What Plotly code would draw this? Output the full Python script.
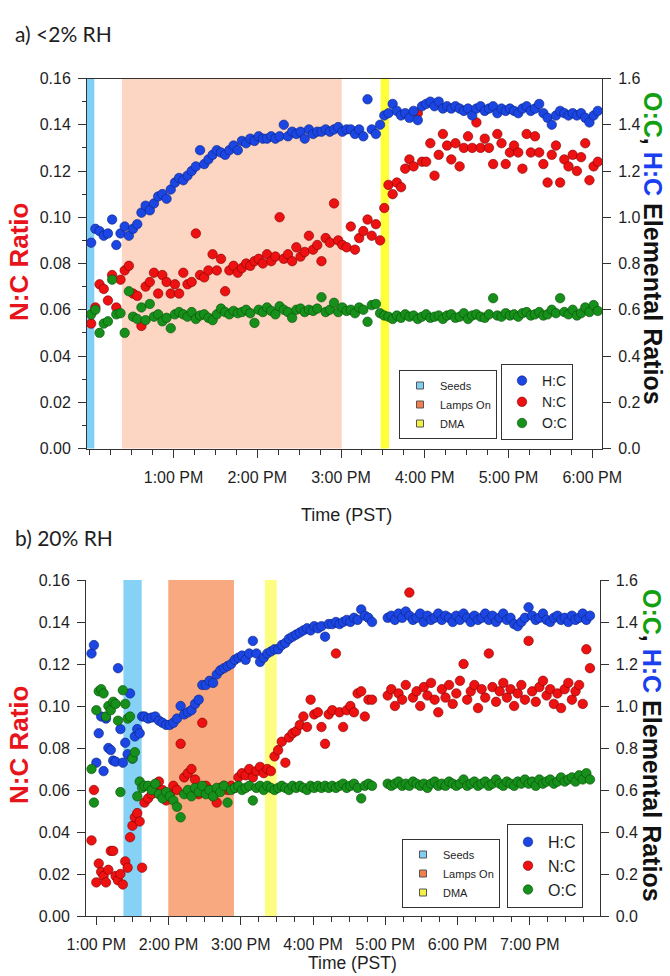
import plotly.graph_objects as go
from datetime import datetime, timedelta

# ---------------- DATA ----------------
# minutes after 12:00 PM (PST)
A_MIN = [1, 4, 7, 10, 13, 16, 19, 22, 25, 28, 31, 34, 37, 40, 43, 46, 49, 52, 55, 58,
         61, 64, 67, 70, 73, 76, 79, 82, 85, 88, 91, 94, 97, 100, 103, 106, 109, 112, 115, 118,
         121, 124, 127, 130, 133, 136, 139, 142, 145, 148, 151, 154, 157, 160, 163, 166, 169, 172, 175, 178,
         181, 184, 187, 190, 193, 196, 199, 202, 205, 208, 211, 214, 217, 220, 223, 226, 229, 232, 235, 238,
         241, 244, 247, 250, 253, 256, 259, 262, 265, 268, 271, 274, 277, 280, 283, 286, 289, 292, 295, 298,
         301, 304, 307, 310, 313, 316, 319, 322, 325, 328, 331, 334, 337, 340, 343, 346, 349, 352, 355, 358,
         361, 364]
A_HC = [0.89, 0.95, 0.94, 0.92, 0.93, 0.99, 0.88, 0.93, 0.96, 0.92,
        0.95, 0.97, 1.02, 1.05, 1.03, 1.06, 1.09, 1.10, 1.08, 1.12,
        1.15, 1.17, 1.16, 1.18, 1.20, 1.22, 1.29, 1.23, 1.25, 1.27,
        1.29, 1.28, 1.27, 1.29, 1.31, 1.29, 1.33, 1.32, 1.34, 1.33,
        1.35, 1.34, 1.34, 1.35, 1.34, 1.35, 1.40, 1.35, 1.37, 1.36,
        1.37, 1.34, 1.38, 1.36, 1.37, 1.37, 1.38, 1.37, 1.38, 1.39,
        1.37, 1.38, 1.38, 1.36, 1.38, 1.35, 1.51, 1.38, 1.36, 1.40,
        1.44, 1.45, 1.49, 1.46, 1.44, 1.45, 1.43, 1.46, 1.42, 1.48,
        1.49, 1.50, 1.48, 1.50, 1.47, 1.48, 1.47, 1.48, 1.47, 1.46,
        1.47, 1.44, 1.47, 1.48, 1.46, 1.47, 1.48, 1.45, 1.47, 1.46,
        1.47, 1.46, 1.45, 1.47, 1.48, 1.46, 1.47, 1.49, 1.45, 1.43,
        1.40, 1.44, 1.46, 1.45, 1.44, 1.45, 1.44, 1.45, 1.43, 1.41,
        1.44, 1.46]
A_NC = [0.054, 0.061, 0.071, 0.069, 0.064, 0.075, 0.061, 0.073, 0.077, 0.079,
        0.067, 0.066, 0.053, 0.070, 0.072, 0.076, 0.067, 0.075, 0.072, 0.067,
        0.071, 0.067, 0.076, 0.071, 0.072, 0.093, 0.075, 0.074, 0.077, 0.084,
        0.077, 0.082, 0.068, 0.077, 0.079, 0.076, 0.078, 0.080, 0.079, 0.081,
        0.082, 0.080, 0.084, 0.081, 0.083, 0.100, 0.082, 0.084, 0.081, 0.087,
        0.083, 0.085, 0.092, 0.086, 0.088, 0.081, 0.091, 0.089, 0.106, 0.090,
        0.088, 0.087, 0.096, 0.086, 0.091, 0.094, 0.099, 0.092, 0.097, 0.090,
        0.104, 0.114, 0.110, 0.115, 0.113, 0.121, 0.125, 0.122, 0.145, 0.124,
        0.124, 0.132, 0.118, 0.127, 0.136, 0.131, 0.125, 0.132, 0.122, 0.130,
        0.135, 0.130, 0.141, 0.130, 0.134, 0.130, 0.123, 0.136, 0.132, 0.123,
        0.128, 0.131, 0.128, 0.121, 0.136, 0.128, 0.135, 0.128, 0.123, 0.115,
        0.127, 0.131, 0.115, 0.125, 0.122, 0.127, 0.120, 0.126, 0.132, 0.116,
        0.122, 0.124]
A_OC = [0.58, 0.60, 0.50, 0.54, 0.55, 0.73, 0.58, 0.585, 0.50, 0.68,
        0.57, 0.56, 0.61, 0.555, 0.625, 0.57, 0.58, 0.55, 0.565, 0.52,
        0.58, 0.59, 0.58, 0.57, 0.59, 0.56, 0.575, 0.58, 0.565, 0.555,
        0.58, 0.605, 0.59, 0.58, 0.595, 0.585, 0.59, 0.60, 0.585, 0.543,
        0.60, 0.59, 0.61, 0.595, 0.58, 0.615, 0.60, 0.59, 0.565, 0.60,
        0.605, 0.59, 0.60, 0.595, 0.605, 0.654, 0.59, 0.60, 0.63, 0.59,
        0.61, 0.595, 0.60, 0.585, 0.61, 0.60, 0.548, 0.62, 0.625, 0.585,
        0.575, 0.57, 0.56, 0.575, 0.565, 0.58, 0.57, 0.575, 0.56, 0.57,
        0.58, 0.565, 0.57, 0.575, 0.56, 0.575, 0.58, 0.565, 0.57, 0.585,
        0.56, 0.575, 0.58, 0.57, 0.565, 0.58, 0.65, 0.575, 0.57, 0.585,
        0.575, 0.58, 0.57, 0.585, 0.59, 0.575, 0.58, 0.59, 0.575, 0.58,
        0.60, 0.585, 0.65, 0.59, 0.58, 0.60, 0.575, 0.585, 0.61, 0.59,
        0.62, 0.595]

B_MIN = [56, 58, 60, 62, 64, 66, 68, 70, 72, 74, 76, 78, 80, 82, 84, 86, 88, 90, 92, 94, 96, 98, 100,
         103, 106, 109, 112, 115, 118, 121, 124, 127, 130, 133, 136, 139, 142, 145, 148, 151, 154, 157, 160,
         163, 166, 169, 172, 175, 178, 181, 184, 187, 190, 193, 196, 199, 202, 205, 208, 211, 214, 217, 220,
         223, 226, 229, 232, 235, 238, 241, 244, 247, 250, 253, 256, 259, 262, 265, 268, 271, 274, 277, 280,
         283, 286, 289,
         302, 305, 308, 311, 314, 317, 320, 323, 326, 329, 332, 335, 338, 341, 344, 347, 350, 353, 356, 359,
         362, 365, 368, 371, 374, 377, 380, 383, 386, 389, 392, 395, 398, 401, 404, 407, 410, 413, 416, 419,
         422, 425, 428, 431, 434, 437, 440, 443, 446, 449, 452, 455, 458, 461, 464, 467, 470]
B_HC = [1.25, 1.29, 0.73, 0.87, 0.95, 0.69, 0.94, 0.80, 0.79, 0.74, 0.735, 1.18, 0.89, 0.73, 0.825,
        0.77, 1.06, 0.75, 0.855, 0.89, 0.87, 0.95, 0.95,
        0.94, 0.945, 0.95, 0.93, 0.92, 0.91, 0.91, 0.92, 0.94, 1.00, 0.96, 0.97, 0.98, 1.01, 1.03,
        1.10, 1.10, 1.12, 1.11, 1.15, 1.17, 1.18, 1.19, 1.20, 1.22, 1.23, 1.24, 1.22, 1.25, 1.31,
        1.25, 1.21, 1.23, 1.25, 1.26, 1.27, 1.27, 1.29, 1.30, 1.32, 1.33, 1.34, 1.35, 1.36, 1.37,
        1.36, 1.38, 1.37, 1.38, 1.33, 1.39, 1.39, 1.40, 1.39, 1.40, 1.41, 1.40, 1.42, 1.41, 1.46,
        1.43, 1.42, 1.40,
        1.42, 1.43, 1.41, 1.44, 1.42, 1.45, 1.43, 1.41, 1.42, 1.44, 1.40, 1.43, 1.41, 1.42, 1.44,
        1.41, 1.43, 1.42, 1.40, 1.43, 1.41, 1.44, 1.42, 1.40, 1.43, 1.41, 1.42, 1.44, 1.41, 1.43,
        1.40, 1.42, 1.44, 1.41, 1.42, 1.39, 1.38, 1.40, 1.42, 1.47, 1.43, 1.41, 1.42, 1.44, 1.41,
        1.40, 1.42, 1.43, 1.41, 1.42, 1.40, 1.43, 1.41, 1.42, 1.44, 1.41, 1.43]
B_NC = [0.036, 0.060, 0.016, 0.025, 0.021, 0.019, 0.016, 0.022, 0.031, 0.031, 0.019, 0.017, 0.020,
        0.015, 0.026, 0.023, 0.0375, 0.043, 0.047, 0.049, 0.045, 0.023, 0.054,
        0.056, 0.058, 0.062, 0.064, 0.060, 0.055, 0.058, 0.062, 0.060, 0.082, 0.066, 0.068, 0.070,
        0.065, 0.058, 0.092, 0.062, 0.060, 0.057, 0.054, 0.061, 0.062, 0.060, 0.062, 0.061, 0.066,
        0.068, 0.067, 0.070, 0.066, 0.069, 0.071, 0.068, 0.070, 0.069, 0.076, 0.079, 0.083, 0.073,
        0.085, 0.087, 0.088, 0.091, 0.095, 0.090, 0.103, 0.096, 0.097, 0.090, 0.082, 0.096, 0.098,
        0.125, 0.097, 0.090, 0.098, 0.100, 0.097, 0.106, 0.107, 0.095, 0.103, 0.103,
        0.105, 0.108, 0.100, 0.106, 0.103, 0.110, 0.154, 0.104, 0.107, 0.100,
        0.109, 0.105, 0.111, 0.103, 0.097, 0.108, 0.104, 0.110, 0.101, 0.106,
        0.112, 0.120, 0.103, 0.107, 0.110, 0.099, 0.108, 0.104, 0.125, 0.109,
        0.102, 0.107, 0.111, 0.104, 0.108, 0.100, 0.106, 0.110, 0.103, 0.131,
        0.107, 0.102, 0.109, 0.112, 0.105, 0.108, 0.101, 0.106, 0.099, 0.108,
        0.111, 0.103, 0.107, 0.110, 0.101, 0.127, 0.118]
B_OC = [0.70, 0.54, 0.98, 1.07, 1.08, 1.06, 0.95, 1.00, 0.98, 1.02, 1.01, 0.93, 0.59, 1.075,
        1.01, 0.94, 0.95, 0.75, 0.78, 0.57, 0.64, 0.61, 0.62,
        0.62, 0.60, 0.63, 0.58, 0.56, 0.59, 0.57, 0.55, 0.52, 0.47, 0.58, 0.60, 0.57, 0.61, 0.59,
        0.62, 0.58, 0.60, 0.57, 0.61, 0.59, 0.62, 0.54, 0.60, 0.61, 0.62, 0.60, 0.61, 0.62, 0.55,
        0.61, 0.62, 0.60, 0.62, 0.61, 0.60, 0.61, 0.62, 0.61, 0.60, 0.62, 0.61, 0.62, 0.61, 0.60,
        0.62, 0.61, 0.62, 0.61, 0.62, 0.61, 0.62, 0.61, 0.62, 0.63, 0.61, 0.62, 0.63, 0.61, 0.56,
        0.62, 0.63, 0.62,
        0.63, 0.62, 0.63, 0.64, 0.62, 0.63, 0.62, 0.64, 0.63, 0.62,
        0.63, 0.61, 0.63, 0.64, 0.62, 0.63, 0.62, 0.64, 0.63, 0.62,
        0.63, 0.65, 0.62, 0.63, 0.64, 0.62, 0.63, 0.64, 0.62, 0.63,
        0.65, 0.63, 0.62, 0.64, 0.63, 0.62, 0.64, 0.63, 0.65, 0.63,
        0.64, 0.62, 0.65, 0.63, 0.64, 0.65, 0.63, 0.64, 0.66, 0.64,
        0.65, 0.66, 0.64, 0.67, 0.65, 0.68, 0.65]

# experiment periods (clock times)
A_PERIODS = {"Seeds": ("11:58:00", "12:03:15"),
             "Lamps On": ("12:23:00", "15:00:30"),
             "DMA": ("15:28:25", "15:34:25")}
B_PERIODS = {"Seeds": ("13:22:30", "13:37:40"),
             "Lamps On": ("13:59:45", "14:54:20"),
             "DMA": ("15:20:00", "15:29:50")}
A_RANGE = ("11:58:00", "18:07:00")
B_RANGE = ("12:51:25", "19:57:55")
A_HOURS = ["13:00", "14:00", "15:00", "16:00", "17:00", "18:00"]

for a, b in [(A_MIN, A_HC), (A_MIN, A_NC), (A_MIN, A_OC), (B_MIN, B_HC), (B_MIN, B_NC), (B_MIN, B_OC)]:
    assert len(a) == len(b), (len(a), len(b))

# ---------------- STYLE ----------------
DAY = "2016-06-01 "
NOON = datetime(2016, 6, 1, 12, 0)


def times(mins):
    return [NOON + timedelta(minutes=m) for m in mins]


def ts(s):
    return DAY + s


W, H = 670, 976
FONT = "Liberation Sans, Arial, Helvetica, sans-serif"
HC_FILL, HC_LINE = "#1c46e3", "#0b2379"
NC_FILL, NC_LINE = "#ee1111", "#7d0000"
OC_FILL, OC_LINE = "#16901a", "#0a4d0a"
BANDS_A = {"Seeds": "#7fd0f6", "Lamps On": "#fdd6c3", "DMA": "#ffff38"}
BANDS_B = {"Seeds": "#85d2f6", "Lamps On": "#f9a97f", "DMA": "#fdfd80"}
SWATCH = {"Seeds": "#80cff2", "Lamps On": "#f47e4c", "DMA": "#f4f046"}
TICKFONT = dict(family=FONT, size=16, color="#1e1e1e")
AXCOL = "#333333"


def px_x(p):
    return p / W


def px_y(p):
    return 1 - p / H


fig = go.Figure()

marker_sets = [
    ("H:C", HC_FILL, HC_LINE),
    ("N:C", NC_FILL, NC_LINE),
    ("O:C", OC_FILL, OC_LINE),
]

panels = [
    dict(t=times(A_MIN), HC=A_HC, NC=A_NC, OC=A_OC, x="x", yl="y", yr="y2",
         leg_band="legend", leg_mark="legend2"),
    dict(t=times(B_MIN), HC=B_HC, NC=B_NC, OC=B_OC, x="x2", yl="y3", yr="y4",
         leg_band="legend3", leg_mark="legend4"),
]

for p in panels:
    # legend entries for the shaded periods
    for name in ["Seeds", "Lamps On", "DMA"]:
        fig.add_trace(go.Scatter(
            x=[None], y=[None], mode="markers", name=name, xaxis=p["x"], yaxis=p["yl"],
            legend=p["leg_band"], hoverinfo="skip",
            marker=dict(symbol="square", size=7, color=SWATCH[name], line=dict(color="#555", width=1))))
    for name, fill, line in marker_sets:
        key = name.replace(":", "")
        fig.add_trace(go.Scatter(
            x=p["t"], y=p[key], mode="markers", name=name, xaxis=p["x"],
            yaxis=p["yl"] if name == "N:C" else p["yr"], legend=p["leg_mark"],
            marker=dict(size=9.5, color=fill, line=dict(color=line, width=0.6))))

# shaded periods
shapes = []
for periods, cols, xr, yr in [(A_PERIODS, BANDS_A, "x", "y domain"), (B_PERIODS, BANDS_B, "x2", "y3 domain")]:
    for name, (t0, t1) in periods.items():
        shapes.append(dict(type="rect", xref=xr, yref=yr, x0=ts(t0), x1=ts(t1), y0=0, y1=1,
                           fillcolor=cols[name], line=dict(width=0), layer="below"))

# geometry (pixels)
A_X = (87, 602)
A_Y = (78.5, 448.5)
B_X = (86, 599.5)
B_Y = (580, 916)


def xaxis_cfg(xpx, anchor, rng, mirror, tickvals=None):
    d = dict(domain=[px_x(xpx[0]), px_x(xpx[1])], anchor=anchor, type="date",
             range=[ts(rng[0]), ts(rng[1])], tickformat="%-I:%M %p",
             ticks="outside", ticklen=8, tickwidth=1, tickcolor=AXCOL,
             minor=dict(dtick=900000, tick0=ts("12:00"), ticks="outside", ticklen=5,
                        tickwidth=1, tickcolor=AXCOL, showgrid=False),
             showline=True, linecolor=AXCOL, linewidth=1, mirror=mirror,
             showgrid=False, zeroline=False, tickfont=TICKFONT, ticklabelstandoff=6,
             automargin=False, fixedrange=True)
    if tickvals is not None:
        d.update(tickmode="array", tickvals=[ts(v) for v in tickvals])
    else:
        d.update(tickmode="linear", dtick=3600000, tick0=ts("13:00"))
    return d


def yleft_cfg(ypx, anchor, minor):
    d = dict(domain=[px_y(ypx[1]), px_y(ypx[0])], anchor=anchor, range=[0, 0.16],
             tickmode="linear", tick0=0, dtick=0.02, tickformat=".2f",
             ticks="outside", ticklen=8, tickwidth=1, tickcolor=AXCOL,
             showline=True, linecolor=AXCOL, linewidth=1, showgrid=False, zeroline=False,
             tickfont=TICKFONT, ticklabelstandoff=4, automargin=False, fixedrange=True)
    if minor:
        d["minor"] = dict(dtick=0.01, tick0=0, ticks="outside", ticklen=4, tickwidth=1,
                          tickcolor=AXCOL, showgrid=False)
    return d


def yright_cfg(over, anchor):
    return dict(overlaying=over, side="right", anchor=anchor, range=[0, 1.6],
                tickmode="linear", tick0=0, dtick=0.2, tickformat=".1f",
                ticks="outside", ticklen=8, tickwidth=1, tickcolor=AXCOL,
                showline=True, linecolor=AXCOL, linewidth=1, showgrid=False, zeroline=False,
                tickfont=TICKFONT, ticklabelstandoff=4, automargin=False, fixedrange=True)


def legend_cfg(right_px, bottom_px, size):
    return dict(x=px_x(right_px), xanchor="right", y=px_y(bottom_px), yanchor="bottom",
                bgcolor="white", bordercolor="#333", borderwidth=1,
                font=dict(family=FONT, size=size, color="#1e1e1e"),
                tracegroupgap=0, itemclick=False, itemdoubleclick=False)


TITLE_FONT = dict(family="Lato, Open Sans, sans-serif", size=21, color="#1e1e1e")
RIGHT_TITLE = ("<b><span style='color:#12a012'>O:C</span>, "
               "<span style='color:#1a3ff0'>H:C</span> Elemental Ratios</b>")
annotations = [
    dict(text="a) &lt;2% RH", x=px_x(13), y=px_y(33), xanchor="left", yanchor="middle", font=TITLE_FONT),
    dict(text="b) 20% RH", x=px_x(13), y=px_y(537), xanchor="left", yanchor="middle", font=TITLE_FONT),
    dict(text="<b>N:C Ratio</b>", x=px_x(19), y=px_y(262), textangle=-90,
         font=dict(family=FONT, size=26, color="#e8141b")),
    dict(text="<b>N:C Ratio</b>", x=px_x(19), y=px_y(745), textangle=-90,
         font=dict(family=FONT, size=26, color="#e8141b")),
    dict(text=RIGHT_TITLE, x=px_x(653), y=px_y(248), textangle=90,
         font=dict(family=FONT, size=25, color="#111")),
    dict(text=RIGHT_TITLE, x=px_x(652), y=px_y(745), textangle=90,
         font=dict(family=FONT, size=25, color="#111")),
    dict(text="Time (PST)", x=px_x(346), y=px_y(515), font=dict(family=FONT, size=18, color="#1e1e1e")),
    dict(text="Time (PST)", x=px_x(352), y=px_y(963), font=dict(family=FONT, size=17.5, color="#1e1e1e")),
]
for a in annotations:
    a.update(xref="paper", yref="paper", showarrow=False)
    a.setdefault("xanchor", "center")
    a.setdefault("yanchor", "middle")

fig.update_layout(
    template="none",
    width=W, height=H, autosize=False,
    margin=dict(l=0, r=0, t=0, b=0, pad=0, autoexpand=False),
    paper_bgcolor="white", plot_bgcolor="rgba(0,0,0,0)",
    font=dict(family=FONT, color="#1e1e1e"),
    xaxis=xaxis_cfg(A_X, "y", A_RANGE, True, A_HOURS),
    yaxis=yleft_cfg(A_Y, "x", True),
    yaxis2=yright_cfg("y", "x"),
    xaxis2=xaxis_cfg(B_X, "y3", B_RANGE, False),
    yaxis3=yleft_cfg(B_Y, "x2", False),
    yaxis4=yright_cfg("y3", "x2"),
    legend=legend_cfg(497, 439, 11),
    legend2=legend_cfg(573, 440, 14),
    legend3=legend_cfg(500, 908, 11),
    legend4=legend_cfg(583, 908, 16),
    shapes=shapes,
    annotations=annotations,
    showlegend=True,
    hovermode="closest",
)

fig.write_html("out.html")
